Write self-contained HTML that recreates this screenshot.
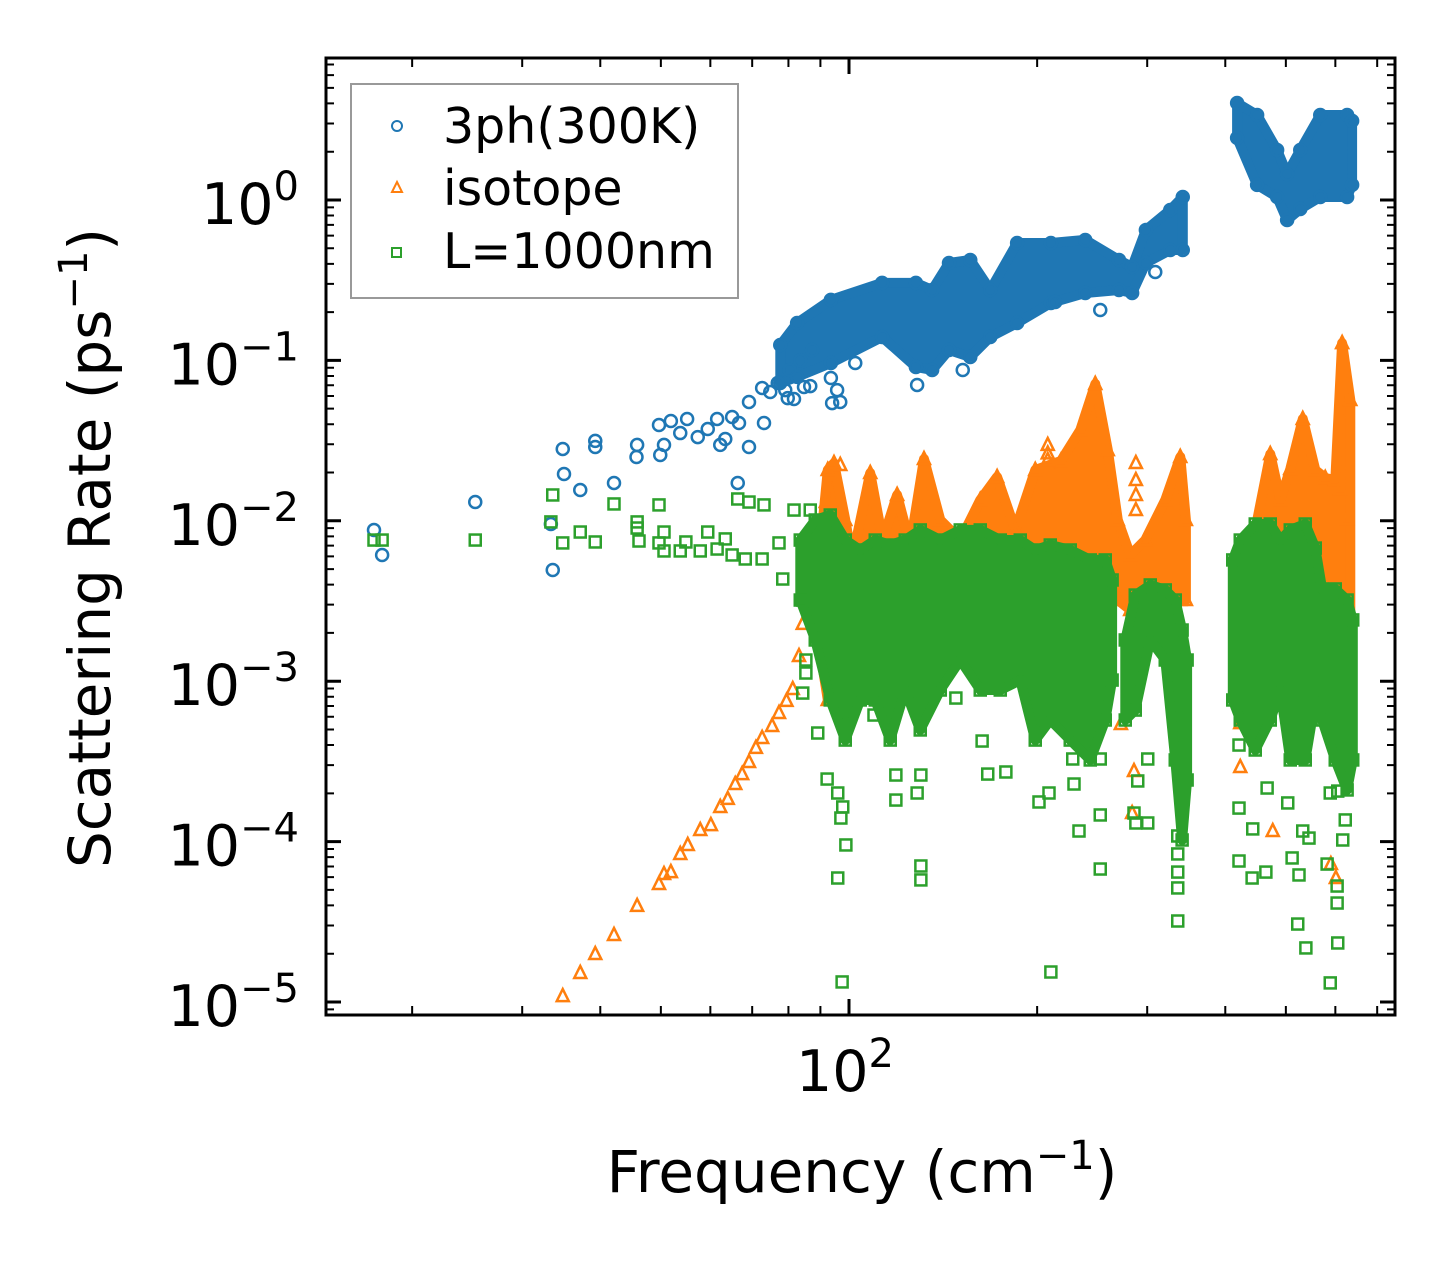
<!DOCTYPE html>
<html><head><meta charset="utf-8">
<style>
html,body{margin:0;padding:0;background:#fff;}
svg{display:block;font-family:"DejaVu Sans","Liberation Sans",sans-serif;}
</style></head>
<body>
<svg id="chart" width="1455" height="1265" viewBox="0 0 1455 1265" xmlns="http://www.w3.org/2000/svg">
<rect width="1455" height="1265" fill="#fff"/>
<g id="marks"></g>
<g id="axes"></g>
<g id="legend">
  <rect x="351" y="84" width="387" height="214" fill="#fff" stroke="#999" stroke-width="2"/>
  <circle cx="397" cy="126" r="5" fill="none" stroke="#1f77b4" stroke-width="2"/>
  <text x="443" y="143" font-size="49">3ph(300K)</text>
  <path d="M397,182 L402,192 L392,192 Z" fill="none" stroke="#ff7f0e" stroke-width="2"/>
  <text x="443" y="205" font-size="49">isotope</text>
  <rect x="392" y="248" width="9" height="9" fill="none" stroke="#2ca02c" stroke-width="2"/>
  <text x="443" y="268" font-size="49">L=1000nm</text>
</g>
<text x="862" y="1192" font-size="58" text-anchor="middle">Frequency (cm<tspan dy="-23" font-size="40">−1</tspan><tspan dy="23">)</tspan></text>
<text transform="translate(110,548) rotate(-90)" font-size="58" text-anchor="middle">Scattering Rate (ps<tspan dy="-23" font-size="40">−1</tspan><tspan dy="23">)</tspan></text>
</svg>
<script>
// ---- data (log10 frequency in cm^-1, log10 rate in ps^-1) ----
// Blue: 3ph(300K)
const blueBandALogF = [1.89,1.917,1.971,2.053,2.107,2.133,2.16,2.194,2.226,2.269,2.323,2.378,2.432,2.453,2.475,2.514,2.534];
const blueBandAHi   = [-0.904,-0.767,-0.623,-0.517,-0.517,-0.561,-0.393,-0.374,-0.561,-0.268,-0.268,-0.249,-0.374,-0.418,-0.187,-0.062,0.019];
const blueBandALo   = [-1.141,-1.103,-1.016,-0.854,-1.041,-1.06,-0.935,-0.979,-0.854,-0.767,-0.642,-0.58,-0.561,-0.58,-0.393,-0.312,-0.312];
const blueBandBLogF = [2.621,2.653,2.685,2.701,2.722,2.754,2.797,2.805];
const blueBandBHi   = [0.605,0.53,0.312,0.162,0.312,0.53,0.53,0.493];
const blueBandBLo   = [0.387,0.094,0.019,-0.125,-0.056,0.019,0.019,0.094];
const bluePtLogF = [1.24,1.253,1.402,1.526,1.523,1.542,1.544,1.57,1.594,1.594,1.624,1.661,1.66,1.696,1.698,1.704,1.715,1.73,1.741,1.758,1.774,1.789,1.794,1.802,1.813,1.824,1.84,1.822,1.864,1.84,1.861,1.912,1.938,1.986,1.902,1.973,1.981,1.971,1.928,2.01,2.109,2.182,2.402,2.33,2.49,1.874,1.886,1.905,1.898,1.922,1.941];
const bluePtLogR = [-2.057,-2.213,-1.883,-2.307,-2.02,-1.552,-1.708,-1.808,-1.502,-1.54,-1.764,-1.527,-1.602,-1.403,-1.59,-1.527,-1.378,-1.453,-1.365,-1.478,-1.428,-1.365,-1.527,-1.49,-1.353,-1.39,-1.54,-1.764,-1.39,-1.259,-1.172,-1.241,-1.16,-1.259,-1.235,-1.266,-1.185,-1.11,-1.166,-1.016,-1.153,-1.06,-0.686,-0.636,-0.449,-1.197,-1.141,-1.06,-1.185,-1.0,-0.935];
// Orange: isotope
const orangeBandALogF = [1.946,1.966,1.976,1.994,2.005,2.034,2.054,2.077,2.098,2.12,2.146,2.178,2.21,2.237,2.266,2.298,2.339,2.37,2.394,2.414,2.43,2.45,2.474,2.506,2.53,2.539];
const orangeBandAHi   = [-2.494,-1.683,-1.64,-1.995,-2.244,-1.702,-2.12,-1.839,-2.151,-1.615,-1.995,-2.12,-1.87,-1.727,-2.057,-1.683,-1.627,-1.434,-1.147,-1.559,-1.995,-2.213,-2.12,-1.87,-1.602,-1.995];
const orangeBandALo   = [-2.618,-3.117,-3.055,-2.993,-2.868,-2.805,-2.743,-2.681,-2.618,-2.494,-2.494,-2.494,-2.494,-2.494,-2.494,-2.494,-2.431,-2.369,-2.369,-2.307,-2.494,-2.556,-2.618,-2.556,-2.494,-2.494];
const orangeBandBLogF = [2.626,2.65,2.674,2.69,2.706,2.726,2.746,2.762,2.778,2.789,2.802];
const orangeBandBHi   = [-2.244,-2.057,-1.584,-1.87,-1.677,-1.365,-1.683,-1.733,-1.746,-0.892,-1.247];
const orangeBandBLo   = [-2.805,-2.868,-2.805,-2.743,-2.743,-2.743,-2.743,-2.743,-2.618,-2.494,-2.618];
const orangePtLogF = [1.542,1.57,1.594,1.624,1.661,1.696,1.704,1.715,1.73,1.742,1.762,1.779,1.794,1.806,1.818,1.829,1.84,1.851,1.861,1.877,1.888,1.9,1.91,1.92,1.926,1.938,1.954,1.963,1.986,2.453,2.456,2.435,2.459,2.459,2.459,2.459,2.626,2.626,2.678,2.771,2.779,2.797,2.786,2.318,2.318,2.318];
const orangePtLogR = [-4.963,-4.819,-4.701,-4.582,-4.401,-4.264,-4.202,-4.19,-4.077,-4.021,-3.928,-3.897,-3.784,-3.734,-3.641,-3.579,-3.504,-3.416,-3.354,-3.279,-3.198,-3.123,-3.049,-2.843,-2.643,-2.544,-2.188,-1.883,-1.652,-3.822,-3.56,-3.267,-1.64,-1.746,-1.839,-1.933,-3.535,-3.261,-3.934,-4.14,-4.227,-1.989,-1.802,-1.527,-1.58,-1.621];
// Green: L=1000nm boundary
const greenBandALogF = [1.922,1.946,1.97,1.994,2.018,2.042,2.066,2.09,2.114,2.146,2.178,2.21,2.242,2.274,2.298,2.322,2.354,2.386,2.41,2.421];
const greenBandAHi   = [-2.12,-1.995,-1.964,-2.12,-2.182,-2.12,-2.151,-2.12,-2.057,-2.12,-2.057,-2.057,-2.12,-2.12,-2.182,-2.151,-2.182,-2.244,-2.244,-2.369];
const greenBandALo   = [-2.494,-2.743,-3.117,-3.367,-3.117,-3.117,-3.367,-3.055,-3.304,-3.055,-2.868,-3.055,-3.055,-2.993,-3.367,-3.242,-3.367,-3.491,-3.242,-2.993];
const greenBandBLogF = [2.442,2.458,2.482,2.506,2.522,2.533,2.541];
const greenBandBHi   = [-2.743,-2.463,-2.4,-2.431,-2.494,-2.681,-2.868];
const greenBandBLo   = [-3.242,-3.18,-2.743,-2.868,-3.491,-3.99,-3.616];
const greenBandCLogF = [2.614,2.626,2.65,2.674,2.69,2.706,2.73,2.746,2.757,2.778,2.797,2.806];
const greenBandCHi   = [-2.244,-2.12,-2.02,-2.02,-2.12,-2.057,-2.02,-2.17,-2.425,-2.425,-2.494,-2.618];
const greenBandCLo   = [-3.117,-3.242,-3.429,-3.242,-3.055,-3.491,-3.491,-3.117,-3.242,-3.491,-3.678,-3.491];
const greenPtLogF = [1.24,1.253,1.402,1.526,1.523,1.542,1.57,1.594,1.624,1.661,1.661,1.664,1.696,1.696,1.704,1.704,1.73,1.739,1.762,1.774,1.789,1.802,1.813,1.822,1.84,1.864,1.834,1.861,1.888,1.912,1.938,1.894,1.926,1.931,1.926,1.931,
 1.989,1.982,1.995,1.987,1.99,1.982,1.965,1.95,2.115,2.115,2.075,2.109,2.115,2.075,2.04,2.213,2.222,2.251,2.171,2.323,2.304,2.32,2.368,2.402,2.402,2.459,2.478,2.456,2.526,2.526,2.526,2.526,2.526,2.478,2.462,2.402,2.358,2.36,
 2.624,2.624,2.645,2.646,2.667,2.669,2.624,2.718,2.731,2.72,2.709,2.702,2.726,2.736,2.77,2.782,2.781,2.781,2.79,2.794,2.77,2.782,2.765];
const greenPtLogR = [-2.12,-2.12,-2.12,-1.839,-2.007,-2.138,-2.07,-2.132,-1.895,-2.007,-2.045,-2.126,-1.901,-2.138,-2.07,-2.188,-2.188,-2.132,-2.188,-2.07,-2.176,-2.113,-2.213,-1.864,-1.883,-1.901,-2.238,-2.238,-2.138,-1.933,-1.933,-2.363,-2.494,-2.868,-3.074,-2.949,
 -4.875,-4.227,-4.021,-3.853,-3.784,-3.697,-3.61,-3.323,-4.152,-4.239,-3.741,-3.697,-3.585,-3.585,-3.211,-3.373,-3.579,-3.566,-3.105,-4.813,-3.753,-3.697,-3.934,-4.171,-3.834,-3.884,-3.884,-3.822,-4.495,-4.289,-4.19,-4.077,-3.965,-3.485,-3.622,-3.485,-3.485,-3.641,
 -3.791,-4.121,-4.227,-3.921,-4.19,-3.666,-3.398,-4.514,-4.663,-4.208,-4.102,-3.759,-3.934,-3.978,-4.881,-4.632,-4.383,-4.277,-3.99,-3.865,-3.697,-3.685,-4.14];
// ticks
const yTickExps = [-5,-4,-3,-2,-1,0];
const xMinorTicks = [20,30,40,50,60,70,80,90,200,300,400,500,600,700];
const xMajorTicks = [100];

// ---- axes ----
const L=326,R=1395,T=58,B=1015;
function X(lf){return 849+(lf-2)*625;}
function Y(lr){return 200-lr*160.4;}
const NS='http://www.w3.org/2000/svg';
function mk(tag,attrs,parent){const e=document.createElementNS(NS,tag);for(const k in attrs)e.setAttribute(k,attrs[k]);parent.appendChild(e);return e;}
const marks=document.getElementById('marks'), axes=document.getElementById('axes');

function circles(lf,lr,name){
  lf.forEach((f,i)=>{const c=mk('circle',{cx:X(f),cy:Y(lr[i]),r:6,fill:'none',stroke:'#1f77b4','stroke-width':2.5},marks);
    
    });
}
function tris(lf,lr,name){
  lf.forEach((f,i)=>{const x=X(f),y=Y(lr[i]);const t=mk('path',{d:`M${x},${y-7} L${x+6},${y+5} L${x-6},${y+5} Z`,fill:'none',stroke:'#ff7f0e','stroke-width':2.5},marks);
    
    });
}
function squares(lf,lr,name){
  lf.forEach((f,i)=>{const s=mk('rect',{x:X(f)-5.5,y:Y(lr[i])-5.5,width:11,height:11,fill:'none',stroke:'#2ca02c','stroke-width':2.5},marks);
    
    });
}
function band(lf,hi,lo,color,name,marker){
  let d='M'+lf.map((f,i)=>X(f).toFixed(1)+','+Y(hi[i]).toFixed(1)).join(' L');
  d+=' L'+lf.map((f,i)=>X(f).toFixed(1)+','+Y(lo[i]).toFixed(1)).reverse().join(' L')+' Z';
  const p=mk('path',{d:d,fill:color,stroke:color,'stroke-width':10,'stroke-linejoin':'round'},marks);
  
  
  marker(lf,hi,name+'-edge-point');
  marker(lf,lo,name+'-edge-point');
}
// draw order: blue, orange, green (green on top)
band(blueBandALogF,blueBandAHi,blueBandALo,'#1f77b4','3ph-dense-band-low',circles);
band(blueBandBLogF,blueBandBHi,blueBandBLo,'#1f77b4','3ph-dense-band-high',circles);
circles(bluePtLogF,bluePtLogR,'3ph-point');
band(orangeBandALogF,orangeBandAHi,orangeBandALo,'#ff7f0e','isotope-dense-band-mid',tris);
band(orangeBandBLogF,orangeBandBHi,orangeBandBLo,'#ff7f0e','isotope-dense-band-high',tris);
tris(orangePtLogF,orangePtLogR,'isotope-point');
band(greenBandALogF,greenBandAHi,greenBandALo,'#2ca02c','boundary-dense-band-mid',squares);
band(greenBandBLogF,greenBandBHi,greenBandBLo,'#2ca02c','boundary-dense-band-arch',squares);
band(greenBandCLogF,greenBandCHi,greenBandCLo,'#2ca02c','boundary-dense-band-high',squares);
squares(greenPtLogF,greenPtLogR,'boundary-point');

// frame
const fr=mk('rect',{x:L,y:T,width:R-L,height:B-T,fill:'none',stroke:'#000','stroke-width':3},axes);


yTickExps.forEach(e=>{
  const y=Y(e);
  const t=mk('path',{d:`M${L},${y} H${L+15} M${R},${y} H${R-15}`,stroke:'#000','stroke-width':3},axes);
  
  
  const lab=mk('text',{x:299,y:y+24,'font-size':57,'text-anchor':'end'},axes);
  
  
  lab.innerHTML='10<tspan dy="-24" font-size="40">'+(e<0?'−'+(-e):e)+'</tspan>';
});
for(let e=-6;e<=0;e++){for(let m=2;m<=9;m++){const lr=e+Math.log10(m);const y=Y(lr);if(y<T||y>B)continue;
  const t=mk('path',{d:`M${L},${y} H${L+8} M${R},${y} H${R-8}`,stroke:'#000','stroke-width':2},axes);
  
  }}
xMinorTicks.forEach(v=>{const x=X(Math.log10(v));
  const t=mk('path',{d:`M${x},${B} V${B-9} M${x},${T} V${T+9}`,stroke:'#000','stroke-width':2},axes);
  
  });
xMajorTicks.forEach(v=>{const x=X(Math.log10(v));
  const t=mk('path',{d:`M${x},${B} V${B-16} M${x},${T} V${T+16}`,stroke:'#000','stroke-width':3},axes);
  
  
  const lab=mk('text',{x:x-4,y:1091,'font-size':57,'text-anchor':'middle'},axes);
  
  
  lab.innerHTML='10<tspan dy="-24" font-size="40">'+Math.round(Math.log10(v))+'</tspan>';});
</script>
</body></html>
